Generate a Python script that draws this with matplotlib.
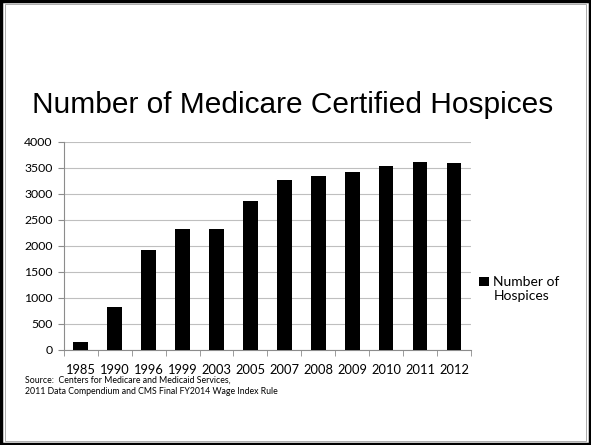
import matplotlib.pyplot as plt
from matplotlib.patches import Rectangle

years = ['1985', '1990', '1996', '1999', '2003', '2005', '2007', '2008', '2009', '2010', '2011', '2012']
hospices = [150, 823, 1932, 2331, 2323, 2872, 3262, 3355, 3420, 3529, 3606, 3594]

fig = plt.figure(figsize=(5.91, 4.45), dpi=100)
ax = fig.add_axes([0.108, 0.2135, 0.689, 0.4675])

x = list(range(len(years)))
ax.bar(x, hospices, width=0.43, color='black', label='Number of\nHospices', zorder=3)

ax.set_xlim(-0.5, len(years) - 0.5)
ax.set_ylim(0, 4000)
ax.set_yticks(range(0, 4001, 500))
ax.yaxis.grid(True, color='#bfbfbf', linewidth=0.8, zorder=0)

ax.set_xticks(x)
ax.set_xticklabels(years, family='Lato', fontsize=9.3)
ax.set_xticks([i - 0.5 for i in range(len(years) + 1)], minor=True)
ax.tick_params(axis='x', which='major', length=0, pad=10)
ax.tick_params(axis='x', which='minor', length=4, color='#8c8c8c', direction='out')
ax.tick_params(axis='y', length=4, color='#8c8c8c', labelsize=8.8, pad=4)
for lab in ax.get_yticklabels():
    lab.set_family('Lato')

for s in ['top', 'right']:
    ax.spines[s].set_visible(False)
ax.spines['left'].set_color('#8c8c8c')
ax.spines['bottom'].set_color('#8c8c8c')

leg = ax.legend(loc='center left', bbox_to_anchor=(0.99, 0.293), frameon=False,
                prop={'family': 'Lato', 'size': 10}, handlelength=0.7, handleheight=0.7,
                handletextpad=0.3, labelspacing=0.2)
# put the square next to the first line, like the original
sq = leg.legend_handles[0]
sq.set_y(sq.get_y() + 5.6)

fig.text(0.054, 0.746, 'Number of Medicare Certified Hospices', family='Liberation Sans',
         fontsize=21.5, va='baseline')
fig.text(0.043, 0.146, 'Source:  Centers for Medicare and Medicaid Services,',
         family='Lato', fontsize=6.3, va='center')
fig.text(0.043, 0.121, '2011 Data Compendium and CMS Final FY2014 Wage Index Rule',
         family='Lato', fontsize=6.3, va='center')

fig.patches.append(Rectangle((0.002, 0.003), 0.996, 0.994, transform=fig.transFigure,
                             fill=False, edgecolor='black', linewidth=2.5))
fig.patches.append(Rectangle((0.008, 0.010), 0.984, 0.98, transform=fig.transFigure,
                             fill=False, edgecolor='#a0a0a0', linewidth=0.6))

fig.savefig('out.png', dpi=100)
